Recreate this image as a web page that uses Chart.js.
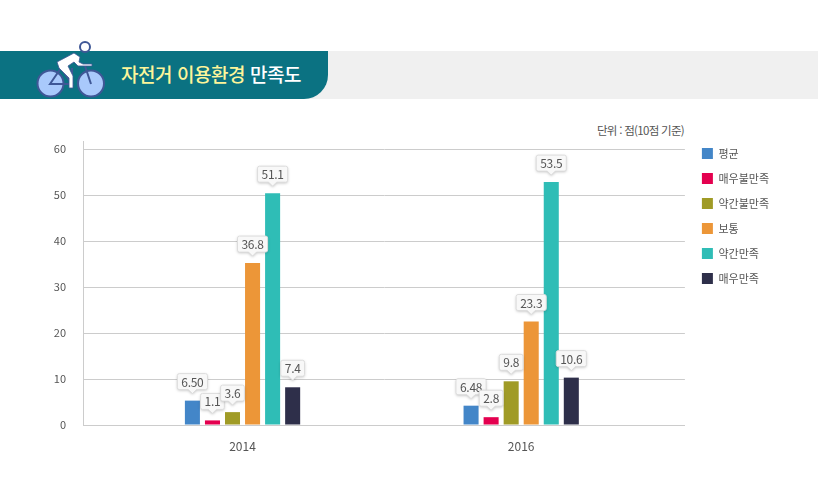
<!DOCTYPE html>
<html lang="ko">
  <head>
    <meta charset="UTF-8" />
    <title>자전거 이용환경 만족도</title>
    <script src="https://cdn.jsdelivr.net/npm/chart.js@4/dist/chart.umd.min.js"></script>
    <style>
      html, body { margin: 0; padding: 0; background: #fff; overflow: hidden; }
      body { width: 818px; height: 483px; position: relative; font-family: "Noto Sans CJK KR", sans-serif; }
      #band { position: absolute; left: 0; top: 51px; width: 818px; height: 48px; background: #f0f0f0; }
      #tab { position: absolute; left: 0; top: 51px; width: 328px; height: 48px; background: #0b7282; border-bottom-right-radius: 24px; }
      #title { position: absolute; left: 121px; top: 60px; font-size: 19px; line-height: 28px; font-weight: 500; color: #fff; letter-spacing: -0.45px; white-space: nowrap; }
      #title span { color: #fdf59a; }
      #bike { position: absolute; left: 30px; top: 38px; }
      #unit { position: absolute; right: 134px; top: 122px; font-size: 11.5px; line-height: 16px; color: #555; letter-spacing: -0.7px; white-space: nowrap; }
      #chart { position: absolute; left: 0; top: 0; }
    </style>
  </head>
  <body>
    <div id="band"></div>
    <div id="tab"></div>
    <svg id="bike" width="80" height="64" viewBox="30 38 80 64">
      <g fill="#a9c9fb" stroke="#3f5796" stroke-width="2">
        <circle cx="50.5" cy="83.5" r="13" />
        <circle cx="91" cy="83.5" r="13" />
      </g>
      <path d="M50 84 L61 68 L72 84 Z M72 84 V68 M85 66 L91 84" fill="none" stroke="#3f5796" stroke-width="2" />
      <circle cx="85" cy="47" r="5" fill="#fff" stroke="#3f5796" stroke-width="2" />
      <path d="M57 62 L74 53 L80 57 L79 62 L83 64 L92 64 L92 66 L78 66 L74 62 L68 66 L73 76 L73 88 L69 88 L69 78 L59 68 Z" fill="#fff" stroke="#3f5796" stroke-width="0.8" />
    </svg>
    <div id="title"><span>자전거 이용환경</span> 만족도</div>
    <div id="unit">단위 : 점(10점 기준)</div>
    <canvas id="chart" width="818" height="483"></canvas>
    <script>
      const years = [2014, 2016];
      const yTicks = [0, 10, 20, 30, 40, 50, 60];
      const seriesNames = ["평균", "매우불만족", "약간불만족", "보통", "약간만족", "매우만족"];
      const seriesColors = ["#4386c8", "#e4004f", "#a09b26", "#ec9638", "#2fbdb6", "#2e2f4a"];

      // bar heights as drawn, the printed labels differ a little in the source
      const average = [5.3, 4.2];
      const veryUnhappy = [1.0, 1.7];
      const somewhatUnhappy = [2.8, 9.5];
      const neutral = [35.2, 22.5];
      const somewhatHappy = [50.4, 52.8];
      const veryHappy = [8.2, 10.3];
      const seriesValues = [average, veryUnhappy, somewhatUnhappy, neutral, somewhatHappy, veryHappy];

      const calloutTexts = [
        ["6.50", "6.48"],
        ["1.1", "2.8"],
        ["3.6", "9.8"],
        ["36.8", "23.3"],
        ["51.1", "53.5"],
        ["7.4", "10.6"],
      ];

      const fontFamily = '"Noto Sans CJK KR", sans-serif';

      const callouts = {
        id: "callouts",
        afterDatasetsDraw(chart) {
          const ctx = chart.ctx;
          ctx.save();
          ctx.font = "12px " + fontFamily;
          ctx.textAlign = "center";
          ctx.textBaseline = "middle";
          ctx.letterSpacing = "-0.3px";
          chart.data.datasets.forEach((ds, i) => {
            chart.getDatasetMeta(i).data.forEach((bar, j) => {
              const text = calloutTexts[i][j];
              const w = ctx.measureText(text).width + 8;
              const h = 16;
              const tip = bar.y - 7;
              const top = tip - 4 - h;
              const left = bar.x - w / 2;
              ctx.beginPath();
              ctx.moveTo(left + 2, top);
              ctx.arcTo(left + w, top, left + w, top + h, 2);
              ctx.arcTo(left + w, top + h, left, top + h, 2);
              ctx.lineTo(bar.x + 4, top + h);
              ctx.lineTo(bar.x, tip);
              ctx.lineTo(bar.x - 4, top + h);
              ctx.arcTo(left, top + h, left, top, 2);
              ctx.arcTo(left, top, left + w, top, 2);
              ctx.closePath();
              ctx.shadowColor = "rgba(0,0,0,0.25)";
              ctx.shadowBlur = 3;
              ctx.shadowOffsetY = 1;
              ctx.fillStyle = "#f8f8f8";
              ctx.fill();
              ctx.shadowColor = "transparent";
              ctx.strokeStyle = "#ddd";
              ctx.lineWidth = 1;
              ctx.stroke();
              ctx.fillStyle = "#555";
              ctx.fillText(text, bar.x, top + h / 2 + 0.5);
            });
          });
          ctx.restore();
        },
      };

      // nudge the legend so the boxes sit a little right of the plot
      const legendNudge = {
        id: "legendNudge",
        afterLayout(chart) {
          chart.legend.left = chart.chartArea.right + 3;
          chart.legend.top = 134;
        },
      };

      new Chart(document.getElementById("chart").getContext("2d"), {
        type: "bar",
        data: {
          datasets: seriesNames.map((name, i) => ({
            label: name,
            backgroundColor: seriesColors[i],
            data: years.map((y, j) => ({ x: y, y: seriesValues[i][j] })),
            categoryPercentage: 0.4317,
            barPercentage: 0.75,
          })),
        },
        plugins: [callouts, legendNudge],
        options: {
          responsive: false,
          animation: false,
          layout: { padding: { left: 53, top: 141, right: 42, bottom: 0 } },
          plugins: {
            tooltip: { enabled: false },
            legend: {
              position: "right",
              align: "start",
              onClick: null,
              labels: {
                boxWidth: 11,
                boxHeight: 11,
                padding: 14,
                color: "#555",
                font: { family: fontFamily, size: 11 },
              },
            },
          },
          scales: {
            x: {
              type: "linear",
              offset: false,
              min: 2012.855,
              max: 2017.175,
              afterBuildTicks(scale) {
                scale.ticks = years.map((v) => ({ value: v }));
              },
              afterFit(scale) {
                scale.height = 58;
              },
              ticks: {
                autoSkip: false,
                maxRotation: 0,
                padding: 6,
                color: "#555",
                font: { family: fontFamily, size: 12 },
                callback: (v) => String(v),
              },
              grid: { display: false },
              border: { color: "#ccc" },
            },
            y: {
              min: 0,
              max: 61.74,
              afterBuildTicks(scale) {
                scale.ticks = yTicks.map((v) => ({ value: v }));
              },
              afterFit(scale) {
                scale.width = 30;
              },
              ticks: {
                padding: 17,
                color: "#555",
                font: { family: fontFamily, size: 11 },
              },
              grid: { color: "#ccc", drawTicks: false },
              border: { color: "#ccc" },
            },
          },
        },
      });
    </script>
  </body>
</html>
